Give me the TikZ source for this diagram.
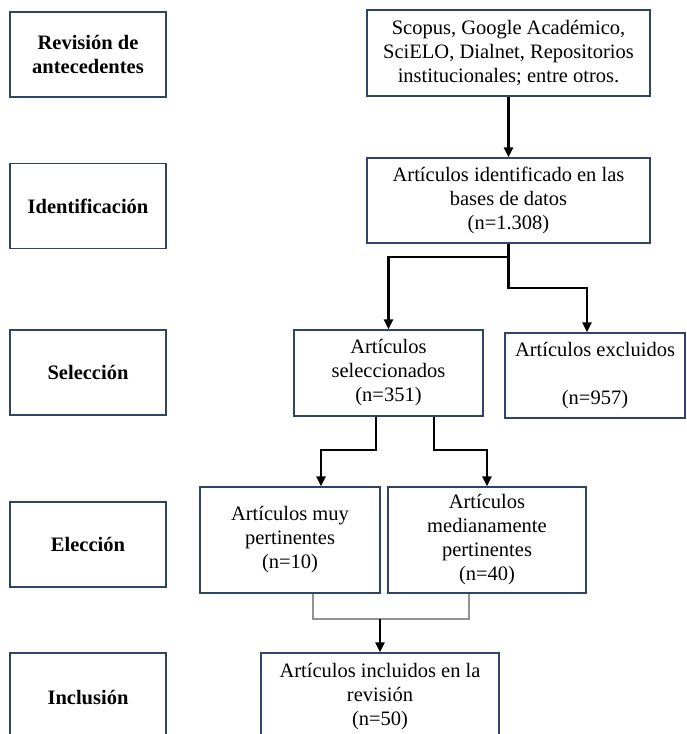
\documentclass[tikz,border=0pt]{standalone}
\usepackage{fontspec}
\setmainfont{Liberation Serif}
\usetikzlibrary{arrows.meta,positioning}
\definecolor{boxblue}{HTML}{2F4468}

\begin{document}
\begin{tikzpicture}[
  x=1pt, y=-1pt,
  every node/.style={font=\fontsize{20.5}{24}\selectfont},
  box/.style={
    draw=boxblue,
    line width=1.4pt,
    align=center,
    inner sep=2pt,
    fill=white
  },
  stage/.style={
    box,
    font=\fontsize{20.5}{23.5}\selectfont\bfseries,
    minimum width=156pt,
    minimum height=85pt
  },
  arrow/.style={
    -{Triangle[length=10pt,width=9pt]},
    line width=2.6pt
  },
  joinline/.style={draw=gray!85, line width=1.3pt}
]
\useasboundingbox (0,0) rectangle (686,734);

% Stage labels (left column)
\node[stage] (revision) at (88,54.5) {Revisión de\\antecedentes};
\node[stage] (identif)  at (88,206)  {Identificación};
\node[stage] (selec)    at (88,372.5) {Selección};
\node[stage] (elec)     at (88,544.5) {Elección};
\node[stage, minimum height=88pt] (inclu) at (88,697) {Inclusión};

% Flow boxes
\node[box, minimum width=283pt, minimum height=86pt] (bases) at (508.5,53)
  {Scopus, Google Académico,\\SciELO, Dialnet, Repositorios\\institucionales; entre otros.};
\node[box, minimum width=283pt, minimum height=85pt] (ident) at (508.5,200.5)
  {Artículos identificado en las\\bases de datos\\(n=1.308)};
\node[box, minimum width=189pt, minimum height=86pt] (selart) at (388.5,373)
  {Artículos\\seleccionados\\(n=351)};
\node[box, minimum width=180pt, minimum height=85pt] (exclu) at (595,375.5)
  {Artículos excluidos\\ \\(n=957)};
\node[box, minimum width=180pt, minimum height=106pt] (muyp) at (290,540)
  {Artículos muy\\pertinentes\\(n=10)};
\node[box, minimum width=198pt, minimum height=106pt] (medp) at (487,540)
  {Artículos\\medianamente\\pertinentes\\(n=40)};
\node[box, minimum width=238pt, minimum height=88pt] (incart) at (380,697)
  {Artículos incluidos en la\\revisión\\(n=50)};

% Routing helpers
\coordinate (splitA) at (0,257);
\coordinate (splitB) at (0,288);
\coordinate (splitC) at (0,450);
\coordinate (joinD)  at (0,619);
\coordinate (selL)  at ([xshift=-12.5pt]selart.south);
\coordinate (selR)  at ([xshift=45.5pt]selart.south);
\coordinate (muyIn) at ([xshift=31pt]muyp.north);
\coordinate (excIn) at ([xshift=-8pt]exclu.north);
\coordinate (muyOut) at ([xshift=23pt]muyp.south);
\coordinate (medOut) at ([xshift=-18pt]medp.south);

% Arrows
\draw[arrow] (bases) -- (ident);
\draw[arrow] (ident.south) -- (ident.south |- splitA) -| (selart.north);
\draw[arrow] (ident.south |- splitA) -- (ident.south |- splitB) -| (excIn);

\draw[arrow] (selL) -- (selL |- splitC) -| (muyIn);
\draw[arrow] (selR) -- (selR |- splitC) -| (medp.north);

% Merge of both groups
\draw[joinline] (muyOut) |- (medOut |- joinD) -- (medOut);
\draw[arrow] (incart.north |- joinD) -- (incart.north);

\end{tikzpicture}
\end{document}
